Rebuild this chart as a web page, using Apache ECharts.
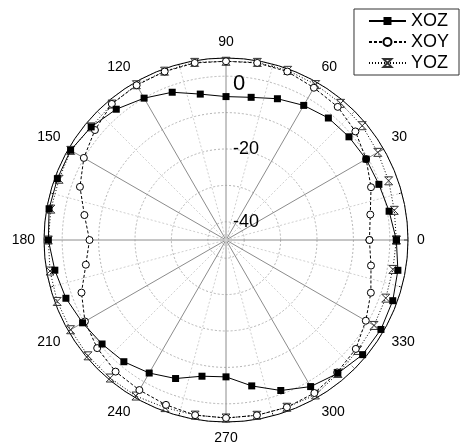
<!DOCTYPE html>
<html>
<head>
<meta charset="utf-8">
<script src="https://cdn.jsdelivr.net/npm/echarts@6/dist/echarts.min.js"></script>
<style>
html,body{margin:0;padding:0;background:#fff;}
#chart{width:462px;height:446px;}
</style>
</head>
<body>
<div id="chart"></div>
<script>
// Angles in degrees
var angles = [0,10,20,30,40,50,60,70,80,90,100,110,120,130,140,150,160,170,
              180,190,200,210,220,230,240,250,260,270,280,290,300,310,320,330,340,350];
// Gain (dB) per series
var xoz = [1.8,0.5,-0.3,-0.55,-0.9,-1.25,-2.3,-3.7,-5.2,-5.6,-4.3,-1.8,0.0,1.9,3.35,4.3,4.3,4.35,
           3.8,2.75,1.8,0.5,-0.55,-1.35,-2.8,-4.5,-7.0,-7.4,-4.3,-1.0,1.5,2.8,4.0,4.15,3.75,2.95];
var xoy = [-5.6,-4.75,-2.6,-0.55,1.4,2.75,3.3,4.25,4.4,4.1,4.4,4.25,4.1,3.8,2.0,0.1,-2.3,-5.5,
           -7.5,-5.9,-2.75,-0.25,1.2,2.2,2.6,3.2,3.85,3.9,3.9,3.9,3.55,2.5,1.55,-0.65,-2.65,-4.55];
var yoz = [1.8,1.95,2.55,3.15,3.85,4.0,4.3,4.6,4.55,4.1,4.55,4.35,4.25,3.75,3.35,4.25,3.8,3.85,
           3.8,4.1,4.35,4.3,4.5,4.5,4.5,4.0,3.85,3.9,3.9,3.9,4.15,2.85,2.2,1.95,1.7,1.55];
var seriesNames = ['XOZ','XOY','YOZ'];
var radialLabels = [-40,-20,0];

function pairs(vals){
  var out = [];
  for (var i = 0; i < angles.length; i++) out.push([vals[i], angles[i]]);
  out.push([vals[0], angles[0] + 360]);
  return out;
}

var font = "Arial, 'Liberation Sans', sans-serif";
var chart = echarts.init(document.getElementById('chart'));
var center = [226, 240];
var R = 182;
chart.setOption({
  animation: false,
  backgroundColor: '#fff',
  legend: {
    orient: 'vertical',
    right: 3, top: 9,
    borderColor: '#333', borderWidth: 1, borderRadius: 0,
    padding: [3, 10, 3, 14],
    itemWidth: 37, itemHeight: 10, itemGap: 3,
    textStyle: {fontFamily: font, fontSize: 18, color: '#000'},
    data: seriesNames
  },
  polar: [
    {center: center, radius: R},
    {center: center, radius: R}
  ],
  angleAxis: [
    {
      polarIndex: 0, type: 'value', min: 0, max: 360, interval: 30,
      startAngle: 0, clockwise: false,
      axisLine: {show: true, lineStyle: {color: '#000', width: 1}},
      axisTick: {show: true, inside: true, length: 4, lineStyle: {color: '#000'}},
      minorTick: {show: true, splitNumber: 2, length: 3, lineStyle: {color: '#000'}},
      axisLabel: {fontFamily: font, fontSize: 14, color: '#000', margin: 9},
      splitLine: {show: true, lineStyle: {color: '#8c8c8c', width: 1}},
      minorSplitLine: {show: true, lineStyle: {color: '#d0d0d0', type: [2, 2], width: 1}}
    },
    {
      polarIndex: 1, type: 'value', min: 0, max: 360, startAngle: 90, clockwise: false,
      axisLine: {show: false}, axisTick: {show: false}, axisLabel: {show: false},
      splitLine: {show: false}
    }
  ],
  radiusAxis: [
    {
      polarIndex: 0, type: 'value', min: -45, max: 5, splitNumber: 5,
      axisLine: {show: false}, axisTick: {show: false}, axisLabel: {show: false},
      splitLine: {show: true, lineStyle: {color: '#b4b4b4', type: [2, 2], width: 1}}
    },
    {
      polarIndex: 1, type: 'value', min: -45, max: 5, splitNumber: 5, z: 10,
      axisLine: {show: false}, axisTick: {show: false}, splitLine: {show: false},
      axisLabel: {
        show: true, fontFamily: font, fontSize: 18, color: '#000',
        showMinLabel: false, showMaxLabel: false,
        margin: -7, align: 'left', verticalAlign: 'middle',
        formatter: function(v){
          if (radialLabels.indexOf(v) < 0) return '';
          return v === 0 ? '{big|0}' : String(v);
        },
        rich: {
          big: {fontFamily: font, fontSize: 22, color: '#000', padding: [16, 0, 0, 0]}
        }
      }
    }
  ],
  series: [
    {
      name: 'XOZ', type: 'line', coordinateSystem: 'polar', polarIndex: 0,
      data: pairs(xoz), symbol: 'rect', symbolSize: 7,
      lineStyle: {color: '#000', width: 1, type: 'solid'},
      itemStyle: {color: '#000'}, z: 5
    },
    {
      name: 'XOY', type: 'line', coordinateSystem: 'polar', polarIndex: 0,
      data: pairs(xoy), symbol: 'circle', symbolSize: 7,
      lineStyle: {color: '#000', width: 1, type: [3, 2]},
      itemStyle: {color: '#fff', borderColor: '#000', borderWidth: 1}, z: 4
    },
    {
      name: 'YOZ', type: 'line', coordinateSystem: 'polar', polarIndex: 0,
      data: pairs(yoz), symbol: 'path://M0,0L10,0L0,10L10,10Z', symbolSize: 8,
      lineStyle: {color: '#000', width: 1, type: [1, 2]},
      itemStyle: {color: 'rgba(255,255,255,0)', borderColor: '#333', borderWidth: 1}, z: 3
    }
  ]
});
</script>
</body>
</html>
